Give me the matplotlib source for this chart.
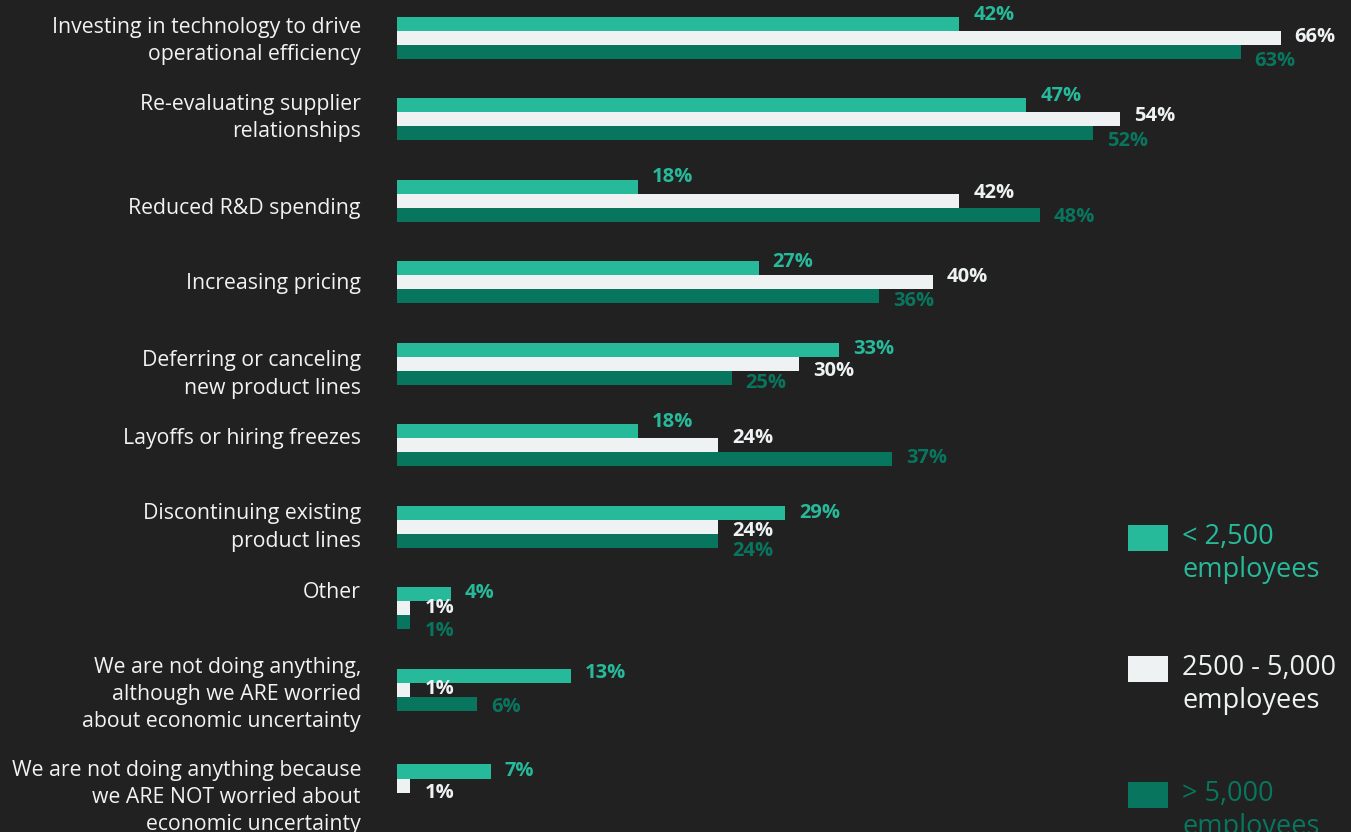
import numpy as np
import matplotlib
matplotlib.use('Agg')
import matplotlib.pyplot as plt
from matplotlib.patches import Rectangle

# 数据
categories = [
    "Investing in technology to drive\noperational efficiency",
    "Re-evaluating supplier\nrelationships",
    "Reduced R&D spending",
    "Increasing pricing",
    "Deferring or canceling\nnew product lines",
    "Layoffs or hiring freezes",
    "Discontinuing existing\nproduct lines",
    "Other",
    "We are not doing anything,\nalthough we ARE worried\nabout economic uncertainty",
    "We are not doing anything because\nwe ARE NOT worried about\neconomic uncertainty",
]
small = [42, 47, 18, 27, 33, 18, 29, 4, 13, 7]
mid = [66, 54, 42, 40, 30, 24, 24, 1, 1, 1]
large = [63, 52, 48, 36, 25, 37, 24, 1, 6, None]
series_names = ["< 2,500\nemployees", "2500 - 5,000\nemployees", "> 5,000\nemployees"]

# 样式
BG = '#212121'
colors = ['#26BA9A', '#EEF2F3', '#08765E']
W, H = 1351, 832
plt.rcParams['font.family'] = ['Open Sans', 'DejaVu Sans']

# 数值标签的垂直偏移（像素，向下为正）
label_dy = [
    [-9, -9, -9, -6, -1, -9, 0, -1, -2, -1],
    [0, -3, -8, -5, 8, -7, 4, 0, -1, 7],
    [10, 8, 2, 5, 6, -1, 11, 9, 3, 0],
]
# 类别标签的垂直偏移（像素，向下为正）
cat_dy = [3.5, -1, 8, 2, 11, -6.5, 1, -15.5, 5, 12]

fig = plt.figure(figsize=(W / 100, H / 100), dpi=100, facecolor=BG)
px_unit = 81.5  # 每个类别的像素间距
ax = fig.add_axes([397 / W, 0, (W - 397) / W, 1])
ax.set_facecolor(BG)
ax.set_xlim(0, (W - 397) / 13.39)
ax.set_ylim((H - 37.5) / px_unit, -37.5 / px_unit)
ax.axis('off')

ypos = np.arange(len(categories), dtype=float)
ypos[-1] += 14.5 / px_unit
bh = 14 / px_unit

for s, (vals, c) in enumerate(zip([small, mid, large], colors)):
    off = (s - 1) * bh
    for i, v in enumerate(vals):
        if v is None:
            continue
        y = ypos[i] + off
        ax.barh(y, v, height=bh, color=c, edgecolor='none')
        ax.annotate(f'{v}%', xy=(v, y), xytext=(14, -label_dy[s][i]),
                    textcoords='offset pixels', ha='left', va='center',
                    color=c, fontsize=14.5, fontweight='bold')

# 类别标签
for i, cat in enumerate(categories):
    ax.annotate(cat, xy=(0, ypos[i]), xytext=(-36, -cat_dy[i]),
                textcoords='offset pixels', ha='right', va='center',
                color='#F2F2F2', fontsize=15.3, linespacing=1.38,
                annotation_clip=False)

# 图例
leg_y = [525, 656, 782]
for name, c, y in zip(series_names, colors, leg_y):
    fig.add_artist(Rectangle((1128 / W, 1 - (y + 26) / H), 40 / W, 26 / H,
                             transform=fig.transFigure, color=c, lw=0))
    fig.text(1182 / W, 1 - (y + 28.5) / H, name, color=c, fontsize=19.5,
             ha='left', va='center', linespacing=1.2)

fig.savefig('out.png', dpi=100, facecolor=BG)
